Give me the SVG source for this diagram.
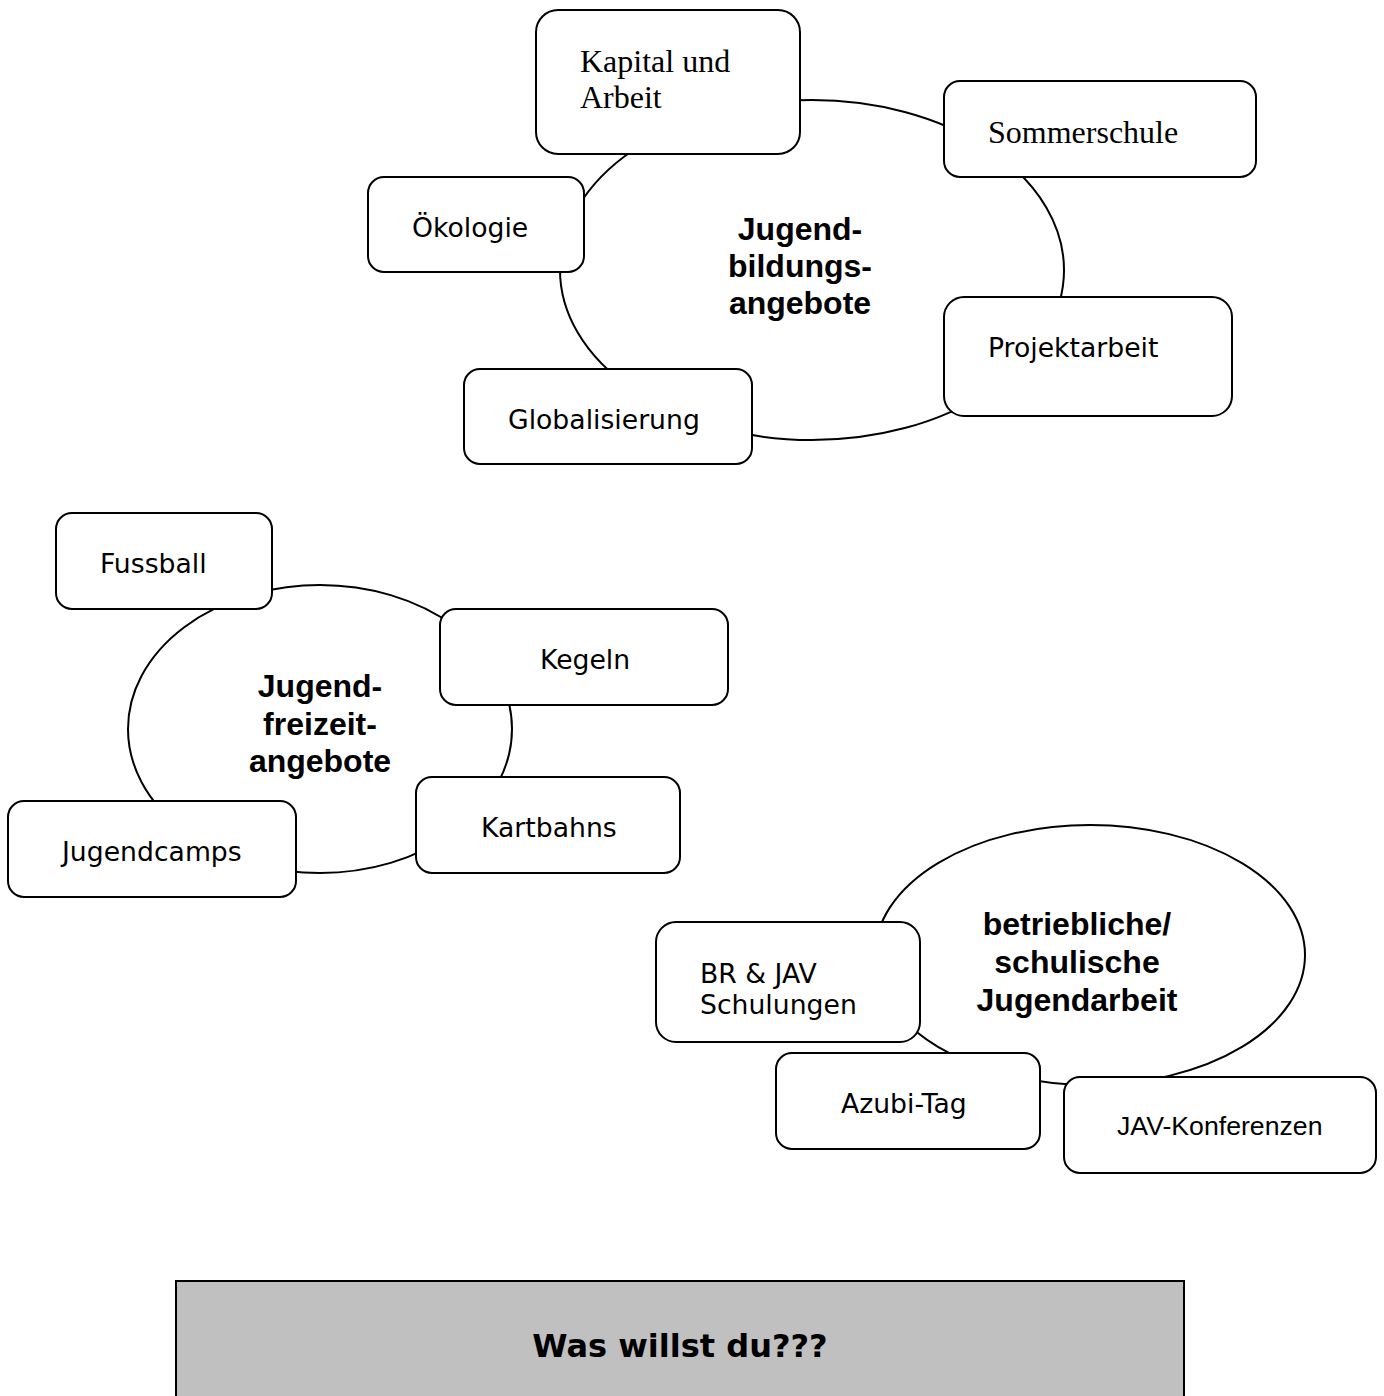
<svg xmlns="http://www.w3.org/2000/svg" width="1384" height="1396" viewBox="0 0 1384 1396">
<style>
.bg{fill:#ffffff}
.ell{fill:#ffffff;stroke:#000;stroke-width:2}
.box{fill:#ffffff;stroke:#000;stroke-width:2}
.serif{font-family:"Liberation Serif","Times New Roman",serif;font-size:32px;fill:#000}
.sans{font-family:"DejaVu Sans",Verdana,sans-serif;font-size:26.67px;fill:#000}
.arial{font-family:"Liberation Sans",Arial,sans-serif;font-size:26.67px;fill:#000}
.hub{font-family:"Liberation Sans",Arial,sans-serif;font-size:32px;font-weight:bold;fill:#000;text-anchor:middle}
.q{font-family:"DejaVu Sans",Verdana,sans-serif;font-size:32px;font-weight:bold;fill:#000;text-anchor:middle}
</style>
<rect class="bg" x="0" y="0" width="1384" height="1396"/>
<g id="connectors">
<ellipse class="ell" cx="812" cy="270" rx="252" ry="170"/>
<ellipse class="ell" cx="320" cy="729" rx="192" ry="144"/>
<ellipse class="ell" cx="1090" cy="955" rx="215" ry="130"/>
</g>
<g id="hub-bildung"><text class="hub"><tspan x="800" y="240">Jugend-</tspan><tspan x="800" y="277">bildungs-</tspan><tspan x="800" y="314">angebote</tspan></text></g>
<g id="hub-freizeit"><text class="hub"><tspan x="320" y="697">Jugend-</tspan><tspan x="320" y="735">freizeit-</tspan><tspan x="320" y="772">angebote</tspan></text></g>
<g id="hub-betrieb"><text class="hub"><tspan x="1077" y="935">betriebliche/</tspan><tspan x="1077" y="973">schulische</tspan><tspan x="1077" y="1011">Jugendarbeit</tspan></text></g>
<g id="n-kapital"><rect class="box" x="536" y="10" width="264" height="144" rx="22"/><text class="serif"><tspan x="580" y="72">Kapital und</tspan><tspan x="580" y="108">Arbeit</tspan></text></g>
<g id="n-sommer"><rect class="box" x="944" y="81" width="312" height="96" rx="16"/><text class="serif" x="988" y="143">Sommerschule</text></g>
<g id="n-oeko"><rect class="box" x="368" y="177" width="216" height="95" rx="16"/><text class="sans" x="412" y="237">Ökologie</text></g>
<g id="n-projekt"><rect class="box" x="944" y="297" width="288" height="119" rx="20"/><text class="sans" x="988" y="357">Projektarbeit</text></g>
<g id="n-global"><rect class="box" x="464" y="369" width="288" height="95" rx="16"/><text class="sans" x="508" y="429">Globalisierung</text></g>
<g id="n-fussball"><rect class="box" x="56" y="513" width="216" height="96" rx="16"/><text class="sans" x="100" y="573">Fussball</text></g>
<g id="n-kegeln"><rect class="box" x="440" y="609" width="288" height="96" rx="16"/><text class="sans" x="540" y="669">Kegeln</text></g>
<g id="n-kart"><rect class="box" x="416" y="777" width="264" height="96" rx="16"/><text class="sans" x="481" y="837">Kartbahns</text></g>
<g id="n-camps"><rect class="box" x="8" y="801" width="288" height="96" rx="16"/><text class="sans" x="62" y="861">Jugendcamps</text></g>
<g id="n-br"><rect class="box" x="656" y="922" width="264" height="120" rx="20"/><text class="sans"><tspan x="700" y="983">BR &amp; JAV</tspan><tspan x="700" y="1014">Schulungen</tspan></text></g>
<g id="n-azubi"><rect class="box" x="776" y="1053" width="264" height="96" rx="16"/><text class="sans" x="841" y="1113">Azubi-Tag</text></g>
<g id="n-jav"><rect class="box" x="1064" y="1077" width="312" height="96" rx="16"/><text class="arial" x="1117" y="1135">JAV-Konferenzen</text></g>
<g id="n-frage"><rect x="176" y="1281" width="1008" height="140" fill="#c0c0c0" stroke="#000" stroke-width="2"/><text class="q" x="680" y="1357">Was willst du???</text></g>
</svg>
